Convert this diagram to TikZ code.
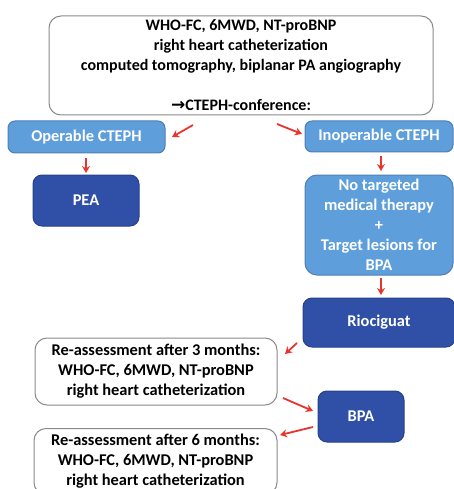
\documentclass[tikz,border=0pt]{standalone}
\usepackage{fontspec}
\setmainfont{Carlito}
\newfontfamily\arrowfont{DejaVu Sans}
\usetikzlibrary{arrows.meta}
\definecolor{lightbox}{HTML}{5E9FDB}
\definecolor{lightedge}{HTML}{4F7FB5}
\definecolor{darkbox}{HTML}{3050A8}
\definecolor{darkedge}{HTML}{26408A}
\definecolor{redarrow}{HTML}{E8352C}
\definecolor{grayedge}{HTML}{8A8A8A}
\tikzset{
  txt/.style={font=\fontsize{16.4}{20}\selectfont\bfseries, align=center, inner sep=0pt},
  whitebox/.style={txt, draw=grayedge, line width=1pt, fill=white, rounded corners=12pt, text=black},
  lightnode/.style={txt, draw=lightedge, line width=1pt, fill=lightbox, rounded corners=7pt, text=white},
  darknode/.style={txt, draw=darkedge, line width=1pt, fill=darkbox, rounded corners=9pt, text=white},
  redarr/.style={draw=redarrow, line width=1.8pt, -{Stealth[length=7pt,width=8pt]}},
}
\begin{document}
\begin{tikzpicture}[x=1pt,y=-1pt]
\useasboundingbox (0,0) rectangle (454,489);
\clip (0,0) rectangle (454,489);
\node[whitebox, font=\fontsize{16}{20}\selectfont\bfseries, minimum width=384pt, minimum height=99pt] (top) at (241,65.5)
  {WHO-FC, 6MWD, NT-proBNP\\right heart catheterization\\computed tomography, biplanar PA angiography\\[20pt]{\arrowfont\fontsize{17}{20}\selectfont →}CTEPH-conference:};
\node[lightnode, minimum width=157pt, minimum height=32pt] (op) at (86.5,137) {Operable CTEPH};
\node[lightnode, minimum width=148pt, minimum height=31pt] (inop) at (379,136.5) {Inoperable CTEPH};
\node[darknode, minimum width=106pt, minimum height=51pt] (pea) at (86,200.5) {PEA};
\node[lightnode, rounded corners=12pt, minimum width=148pt, minimum height=100pt] (nt) at (379,225)
  {No targeted\\medical therapy\\+\\Target lesions for\\BPA};
\node[darknode, minimum width=152pt, minimum height=49pt] (rio) at (379,322.5) {Riociguat};
\node[whitebox, minimum width=242pt, minimum height=67pt] (re3) at (156,371.5)
  {Re-assessment after 3 months:\\WHO-FC, 6MWD, NT-proBNP\\right heart catheterization};
\node[darknode, minimum width=86pt, minimum height=51pt] (bpa) at (361,416.5) {BPA};
\node[whitebox, minimum width=243pt, minimum height=66pt, anchor=north] (re6) at (155.5,428)
  {Re-assessment after 6 months:\\WHO-FC, 6MWD, NT-proBNP\\right heart catheterization};
\coordinate (a1s) at (193,125); \coordinate (a1e) at (172,137);
\coordinate (a2s) at (277,124); \coordinate (a2e) at (302,134);
\coordinate (a3s) at (86,158);  \coordinate (a3e) at (86,173);
\coordinate (a4s) at (381,156); \coordinate (a4e) at (381,171);
\coordinate (a5s) at (381,278); \coordinate (a5e) at (381,295);
\coordinate (a6s) at (297,343); \coordinate (a6e) at (285,354);
\coordinate (a7s) at (283,398); \coordinate (a7e) at (313,411);
\coordinate (a8s) at (313,427); \coordinate (a8e) at (280,435);
\foreach \a in {a1,a2,a3,a4,a5,a6,a7,a8} \draw[redarr] (\a s) -- (\a e);
\end{tikzpicture}
\end{document}
